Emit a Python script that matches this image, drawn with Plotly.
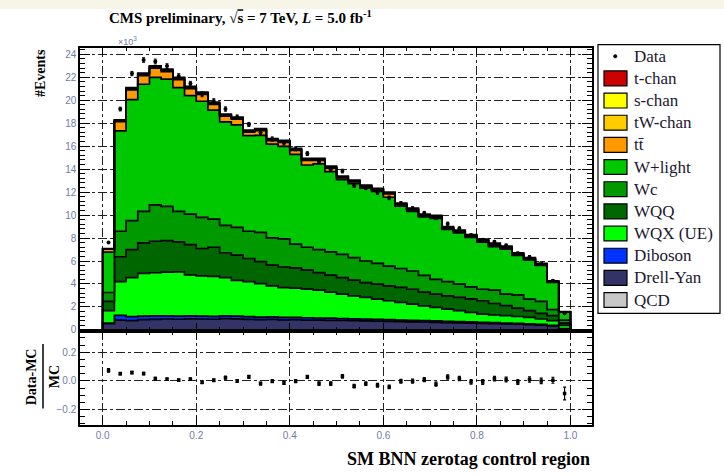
import numpy as np
import plotly.graph_objects as go

# ---------------------------------------------------------------
# SM BNN output, zero-tag control region (events in units of 10^3)
# 40 bins of width 0.025 over [0, 1]
# ---------------------------------------------------------------
bin_edges = np.linspace(0.0, 1.0, 41)
bin_centers = 0.5 * (bin_edges[:-1] + bin_edges[1:])

qcd = [0.0] * 40
drell_yan = [0.55, 0.86, 0.81, 0.90, 0.92, 0.95, 0.93, 0.97, 0.95, 0.93,
             0.98, 0.96, 0.92, 0.90, 0.92, 0.88, 0.90, 0.86, 0.85, 0.84,
             0.82, 0.80, 0.79, 0.77, 0.74, 0.72, 0.70, 0.69, 0.66, 0.64,
             0.62, 0.60, 0.57, 0.55, 0.52, 0.50, 0.46, 0.42, 0.35, 0.10]
diboson = [0.05, 0.40, 0.35, 0.30, 0.30, 0.28, 0.28, 0.26, 0.26, 0.25,
           0.24, 0.24, 0.23, 0.22, 0.22, 0.21, 0.20, 0.20, 0.19, 0.18,
           0.17, 0.17, 0.16, 0.15, 0.15, 0.14, 0.13, 0.13, 0.12, 0.11,
           0.10, 0.10, 0.09, 0.09, 0.08, 0.07, 0.07, 0.06, 0.05, 0.02]
wqx_ue = [1.08, 2.95, 3.39, 3.73, 3.76, 3.80, 3.85, 3.56, 3.49, 3.49,
          3.33, 3.12, 3.06, 2.92, 2.70, 2.60, 2.54, 2.49, 2.42, 2.26,
          2.12, 2.00, 1.88, 1.76, 1.65, 1.54, 1.42, 1.28, 1.18, 1.07,
          0.96, 0.83, 0.72, 0.66, 0.64, 0.60, 0.57, 0.47, 0.41, 0.28]
wqq = [0.80, 2.16, 2.45, 2.65, 2.74, 2.74, 2.60, 2.64, 2.39, 2.53,
       2.17, 2.20, 2.01, 1.90, 1.81, 1.79, 1.76, 1.65, 1.53, 1.50,
       1.44, 1.36, 1.29, 1.30, 1.30, 1.30, 1.29, 1.20, 1.15, 1.15,
       1.15, 1.17, 1.16, 1.00, 0.87, 0.73, 0.58, 0.50, 0.43, 0.20]
wc = [0.78, 2.22, 2.51, 2.74, 3.17, 2.98, 2.66, 2.66, 2.71, 2.45,
      2.39, 2.41, 2.37, 2.56, 2.36, 2.45, 2.07, 2.00, 2.01, 2.02,
      2.02, 1.97, 1.88, 1.82, 1.72, 1.65, 1.59, 1.45, 1.30, 1.24,
      1.15, 1.05, 1.00, 1.16, 1.00, 1.15, 1.00, 1.03, 0.53, 0.25]
w_light = [3.52, 8.74, 10.54, 11.07, 11.10, 11.09, 10.78, 10.31, 10.11, 9.49,
           9.00, 8.92, 8.33, 8.44, 8.17, 8.05, 7.81, 7.16, 7.46, 6.99,
           6.52, 6.44, 6.34, 6.25, 5.99, 5.42, 5.19, 5.08, 5.30, 4.54,
           4.47, 4.31, 4.11, 3.80, 3.92, 3.44, 3.41, 3.13, 2.36, 0.70]
ttbar = [0.25, 0.80, 0.85, 0.75, 0.80, 0.65, 0.70, 0.60, 0.60, 0.50,
         0.50, 0.50, 0.30, 0.40, 0.30, 0.35, 0.35, 0.40, 0.30, 0.30,
         0.15, 0.15, 0.12, 0.12, 0.30, 0.12, 0.12, 0.10, 0.10, 0.10,
         0.10, 0.08, 0.08, 0.08, 0.08, 0.07, 0.06, 0.05, 0.04, 0.01]
tw_chan = [0.03, 0.10, 0.12, 0.13, 0.12, 0.12, 0.11, 0.11, 0.10, 0.10,
           0.10, 0.09, 0.09, 0.09, 0.08, 0.08, 0.08, 0.07, 0.07, 0.07,
           0.06, 0.06, 0.06, 0.06, 0.05, 0.05, 0.05, 0.05, 0.05, 0.04,
           0.04, 0.04, 0.04, 0.04, 0.03, 0.03, 0.03, 0.03, 0.02, 0.01]
s_chan = [0.01] + [0.02] * 37 + [0.01, 0.00]
t_chan = [0.02, 0.05, 0.06, 0.07, 0.07, 0.07, 0.07, 0.07, 0.07, 0.07,
          0.07, 0.07, 0.07, 0.07, 0.07, 0.07, 0.07, 0.08, 0.08, 0.08,
          0.08, 0.08, 0.08, 0.08, 0.08, 0.08, 0.09, 0.09, 0.09, 0.09,
          0.09, 0.10, 0.11, 0.15, 0.13, 0.11, 0.10, 0.09, 0.07, 0.02]

data = [7.61, 19.23, 22.32, 23.50, 23.37, 22.97, 22.11, 21.45, 20.51, 19.93,
        19.23, 18.53, 17.89, 17.19, 16.62, 16.27, 15.77, 15.35, 14.65, 13.99,
        13.83, 12.57, 12.38, 11.96, 11.50, 11.02, 10.58, 10.18, 9.74, 9.25,
        8.84, 8.24, 7.84, 7.67, 7.36, 6.67, 6.36, 5.80, 4.29, 1.45]
# relative uncertainty on (Data-MC)/MC
ratio_err = [0.012, 0.009, 0.009, 0.009, 0.009, 0.009, 0.009, 0.009, 0.010, 0.010,
             0.010, 0.010, 0.010, 0.010, 0.011, 0.011, 0.011, 0.011, 0.012, 0.012,
             0.012, 0.012, 0.013, 0.013, 0.013, 0.013, 0.014, 0.014, 0.014, 0.015,
             0.015, 0.016, 0.016, 0.016, 0.017, 0.017, 0.018, 0.019, 0.021, 0.045]

# stacking order, bottom to top
stack = [
    ("QCD", qcd, "#c8c8c8"),
    ("Drell-Yan", drell_yan, "#333366"),
    ("Diboson", diboson, "#0033ff"),
    ("WQX (UE)", wqx_ue, "#00ff00"),
    ("WQQ", wqq, "#006600"),
    ("Wc", wc, "#009900"),
    ("W+light", w_light, "#00c800"),
    ("tt\u0304", ttbar, "#ff9900"),
    ("tW-chan", tw_chan, "#ffcc00"),
    ("s-chan", s_chan, "#ffff00"),
    ("t-chan", t_chan, "#cc0000"),
]

# legend entries, top to bottom
legend_entries = ["Data", "t-chan", "s-chan", "tW-chan", "tt\u0304", "W+light",
                  "Wc", "WQQ", "WQX (UE)", "Diboson", "Drell-Yan", "QCD"]

SERIF = "Liberation Serif, Times New Roman, serif"
SANS = "Liberation Sans Narrow, Liberation Sans, Arial, sans-serif"
TICK_COLOR = "#6f7ca6"
W, H = 724, 476

fig = go.Figure()

# stacked histogram drawn as filled step outlines
step_x = np.concatenate([[bin_edges[0]], bin_edges[:-1], [bin_edges[-1]]])
cumulative = np.zeros(40)
for i, (name, values, color) in enumerate(stack):
    cumulative = cumulative + np.asarray(values)
    step_y = np.concatenate([[0.0], cumulative, [0.0]])
    fig.add_trace(go.Scatter(
        x=step_x, y=step_y, mode="lines", name=name,
        line=dict(shape="hv", color="black", width=1.7),
        fill="tozeroy" if i == 0 else "tonexty", fillcolor=color,
        showlegend=False, hoverinfo="skip", xaxis="x", yaxis="y"))

mc_total = cumulative
data_arr = np.asarray(data)
err_arr = np.asarray(ratio_err)

# data points, upper panel
fig.add_trace(go.Scatter(
    x=bin_centers, y=data_arr, mode="markers", name="Data",
    marker=dict(color="black", size=4),
    error_y=dict(type="data", array=err_arr * mc_total, color="black",
                 thickness=1, width=1.5),
    showlegend=False, xaxis="x", yaxis="y"))

# ratio panel
ratio = (data_arr - mc_total) / mc_total
fig.add_trace(go.Scatter(
    x=bin_centers, y=ratio, mode="markers", name="Data-MC",
    marker=dict(color="black", size=3.5, symbol="square"),
    error_y=dict(type="data", array=err_arr, color="black",
                 thickness=1.2, width=1.5),
    showlegend=False, xaxis="x2", yaxis="y2"))

# panel geometry in pixels
x_left, x_right = 80, 591.5
top_upper, split, bottom_lower = 48, 334, 428.5

axis_common = dict(
    showline=True, linecolor="black", linewidth=1.5, mirror="ticks",
    ticks="inside", tickcolor="black", tickwidth=1,
    showgrid=True, gridcolor="#222222", gridwidth=1, griddash="dashdot",
    zeroline=False,
    tickfont=dict(family=SANS, size=10, color=TICK_COLOR),
)

fig.update_layout(
    width=W, height=H,
    margin=dict(l=0, r=0, t=0, b=0),
    paper_bgcolor="white", plot_bgcolor="white",
    showlegend=False,
    xaxis=dict(axis_common, domain=[x_left / W, x_right / W], anchor="y",
               range=[-0.0485, 1.045], tick0=0, dtick=0.2, ticklen=8,
               minor=dict(dtick=0.05, ticklen=4, ticks="inside", tickcolor="black"),
               showticklabels=False),
    yaxis=dict(axis_common, domain=[1 - split / H, 1 - top_upper / H], anchor="x",
               range=[-0.11, 24.58], tick0=0, dtick=2, ticklen=10,
               minor=dict(dtick=0.4, ticklen=5, ticks="inside", tickcolor="black")),
    xaxis2=dict(axis_common, domain=[x_left / W, x_right / W], anchor="y2",
                matches="x", range=[-0.0485, 1.045], tick0=0, dtick=0.2, ticklen=8,
                minor=dict(dtick=0.05, ticklen=4, ticks="inside", tickcolor="black"),
                tickformat=".1f"),
    yaxis2=dict(axis_common, domain=[1 - bottom_lower / H, 1 - split / H], anchor="x2",
                range=[-0.307, 0.347], tick0=0, dtick=0.2, ticklen=10,
                minor=dict(dtick=0.05, ticklen=5, ticks="inside", tickcolor="black"),
                tickformat=".1f"),
)

annotations = []
shapes = []

# faint band along the top edge of the canvas
shapes.append(dict(type="rect", xref="paper", yref="paper", x0=0, x1=1,
                   y0=1 - 9 / H, y1=1, fillcolor="#f7f5e8", line=dict(width=0),
                   layer="below"))

# title
annotations.append(dict(
    xref="paper", yref="paper", x=240 / W, y=1 - 17 / H, xanchor="center", yanchor="middle",
    showarrow=False,
    text="<b>CMS preliminary, \u221a<span style='text-decoration:overline'>s</span> = 7 TeV, "
         "<i>L</i> = 5.0 fb<sup>-1</sup></b>",
    font=dict(family=SERIF, size=15, color="black")))

# axis titles
annotations.append(dict(
    xref="paper", yref="paper", x=50 / W, y=1 - top_upper / H, xanchor="right", yanchor="top",
    showarrow=False, textangle=-90, text="<b>#Events</b>",
    font=dict(family=SERIF, size=14, color="black")))
annotations.append(dict(
    xref="paper", yref="paper", x=127 / W, y=1 - 41 / H, xanchor="center", yanchor="middle",
    showarrow=False, text="\u00d710<sup>3</sup>",
    font=dict(family=SANS, size=9, color=TICK_COLOR)))
annotations.append(dict(
    xref="paper", yref="paper", x=41 / W, y=1 - 380 / H, xanchor="right", yanchor="middle",
    showarrow=False, textangle=-90, text="<b>Data-MC</b>",
    font=dict(family=SERIF, size=14, color="black")))
annotations.append(dict(
    xref="paper", yref="paper", x=45 / W, y=1 - 380 / H, xanchor="left", yanchor="middle",
    showarrow=False, textangle=-90, text="<b>MC</b>",
    font=dict(family=SERIF, size=14, color="black")))
shapes.append(dict(type="line", xref="paper", yref="paper",
                   x0=43 / W, x1=43 / W, y0=1 - 347 / H, y1=1 - 412 / H,
                   line=dict(color="black", width=1.5)))
annotations.append(dict(
    xref="paper", yref="paper", x=592 / W, y=1 - 463 / H, xanchor="right", yanchor="middle",
    showarrow=False, text="<b>SM BNN zerotag control region</b>",
    font=dict(family=SERIF, size=18, color="black")))

# legend box
leg_x0, leg_x1, leg_y0, leg_y1 = 598, 720, 45, 316
shapes.append(dict(type="rect", xref="paper", yref="paper",
                   x0=leg_x0 / W, x1=leg_x1 / W, y0=1 - leg_y0 / H, y1=1 - leg_y1 / H,
                   fillcolor="white", line=dict(color="black", width=1.2)))
color_of = {name: color for name, _, color in stack}
row0, row_step = 56.7, 22.35
for i, label in enumerate(legend_entries):
    yc = row0 + i * row_step
    if label == "Data":
        shapes.append(dict(type="circle", xref="paper", yref="paper",
                           x0=613.5 / W, x1=617 / W, y0=1 - (yc - 1.75) / H, y1=1 - (yc + 1.75) / H,
                           fillcolor="black", line=dict(color="black", width=0.5)))
    else:
        shapes.append(dict(type="rect", xref="paper", yref="paper",
                           x0=604 / W, x1=627 / W, y0=1 - (yc - 7.5) / H, y1=1 - (yc + 7.5) / H,
                           fillcolor=color_of[label], line=dict(color="black", width=1.2)))
    annotations.append(dict(
        xref="paper", yref="paper", x=632 / W, y=1 - yc / H, xanchor="left", yanchor="middle",
        showarrow=False, text=label,
        font=dict(family=SERIF, size=17, color="#1c1830")))

fig.update_layout(annotations=annotations, shapes=shapes)

fig.write_html("out.html")
